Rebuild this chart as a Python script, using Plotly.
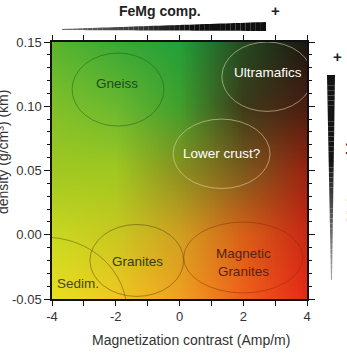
import numpy as np
import plotly.graph_objects as go

# ---------------- data ----------------
x_grid = [-4, -2, 0, 2, 4]
y_grid = [0.15, 0.10, 0.05, 0.00, -0.05]
grid_colors = [
    ["#5ab52f", "#3aa835", "#22a038", "#244a22", "#1a1611"],
    ["#80c028", "#6ab830", "#40a02c", "#3c3a1a", "#4a1c10"],
    ["#a0c820", "#a0c820", "#8a9020", "#7a5a1c", "#9a2210"],
    ["#c8d820", "#c8c820", "#d0a020", "#d86018", "#c82814"],
    ["#e8e020", "#f0c820", "#f0a020", "#f06018", "#e82818"],
]

rock_names = ["Gneiss", "Ultramafics", "Lower crust?", "Granites", "Magnetic<br>Granites", "Sedim."]
label_x = [-1.96, 2.78, 1.33, -1.33, 2.02, -3.18]
label_y = [0.118, 0.126, 0.0636, -0.0212, -0.0216, -0.0383]
label_colors = ["#1e4a1e", "#ffffff", "#ffffff", "#3a3a10", "#5a2010", "#4a4a10"]

ell_cx = [-1.93, 2.75, 1.32, -1.34, 2.0, -4.2]
ell_cy = [0.113, 0.123, 0.063, -0.020, -0.0177, -0.060]
ell_rx = [1.44, 1.42, 1.52, 1.47, 1.87, 2.55]
ell_ry = [0.0284, 0.027, 0.027, 0.028, 0.0276, 0.058]
ell_colors = ["rgba(30,90,30,0.5)", "rgba(235,215,175,0.55)", "rgba(235,215,175,0.55)",
              "rgba(80,70,20,0.5)", "rgba(130,40,10,0.45)", "rgba(90,80,20,0.5)"]

x_tickvals = [-4, -2, 0, 2, 4]
x_ticktext = ["-4", "-2", "0", "2", "4"]
y_tickvals = [-0.05, 0.0, 0.05, 0.10, 0.15]
y_ticktext = ["-0.05", "0.00", "0.05", "0.10", "0.15"]

# ------------- gradient background -------------
def hex2rgb(h):
    h = h.lstrip("#")
    return [int(h[i:i + 2], 16) for i in (0, 2, 4)]

G = np.array([[hex2rgb(c) for c in row] for row in grid_colors], dtype=float)
G = G[::-1]  # y ascending
yg = np.array(y_grid[::-1])
xg = np.array(x_grid, dtype=float)

N = 200
dx = 8.0 / N
dy = 0.2 / N
xs = -4 + dx / 2 + dx * np.arange(N)
ys = -0.05 + dy / 2 + dy * np.arange(N)

tmp = np.zeros((len(yg), N, 3))
for i in range(len(yg)):
    for c in range(3):
        tmp[i, :, c] = np.interp(xs, xg, G[i, :, c])
img = np.zeros((N, N, 3))
for j in range(N):
    for c in range(3):
        img[:, j, c] = np.interp(ys, yg, tmp[:, j, c])
img = np.clip(np.round(img), 0, 255).astype(int)

fig = go.Figure()
fig.add_trace(go.Image(z=img.tolist(), x0=xs[0], dx=dx, y0=ys[0], dy=dy,
                       hoverinfo="skip", zsmooth="fast"))

for cx, cy, rx, ry, col in zip(ell_cx, ell_cy, ell_rx, ell_ry, ell_colors):
    fig.add_shape(type="circle", xref="x", yref="y",
                  x0=cx - rx, x1=cx + rx, y0=cy - ry, y1=cy + ry,
                  line=dict(color=col, width=1))

font_fam = "Liberation Sans, Arial"
for name, lx, ly, col in zip(rock_names, label_x, label_y, label_colors):
    fig.add_annotation(x=lx, y=ly, xref="x", yref="y", text=name, showarrow=False,
                       xanchor="center", yanchor="middle",
                       font=dict(size=13.5, color=col, family=font_fam))

# ------------- layout geometry -------------
W, H = 347, 354
L, R, T, B = 52, 307, 42, 299


def px(xr):
    return (xr - L) / (R - L)


def py(yr):
    return (B - yr) / (B - T)


def quad(p):
    return "M {:.4f},{:.4f} L {:.4f},{:.4f} L {:.4f},{:.4f} L {:.4f},{:.4f} Z".format(
        px(p[0][0]), py(p[0][1]), px(p[1][0]), py(p[1][1]),
        px(p[2][0]), py(p[2][1]), px(p[3][0]), py(p[3][1]))


n = 40
# horizontal wedge (FeMg comp.)
xl, xr = 62, 266
for k in range(n):
    a0, a1 = k / n, (k + 1) / n
    xa = xl + (xr - xl) * a0
    xb = xl + (xr - xl) * a1
    ta = 29.0 + (22 - 29.0) * a0
    tb = 29.0 + (22 - 29.0) * a1
    ba = 30.0 + (31 - 30.0) * a0
    bb = 30.0 + (31 - 30.0) * a1
    g = int(110 - 95 * min(1, a0 * 1.6))
    fig.add_shape(type="path", xref="paper", yref="paper",
                  path=quad([(xa, ta), (xb, tb), (xb, bb), (xa, ba)]),
                  fillcolor="rgb({0},{0},{0})".format(g), line=dict(width=0))

# vertical wedge (Metamorphism)
yt, yb = 75, 280
for k in range(n):
    a0, a1 = k / n, (k + 1) / n
    ya = yt + (yb - yt) * a0
    yb_ = yt + (yb - yt) * a1
    la = 327 + (331 - 327) * a0
    lb = 327 + (331 - 327) * a1
    ra = 335 + (332 - 335) * a0
    rb = 335 + (332 - 335) * a1
    g = int(20 + 150 * max(0, (a0 - 0.4) / 0.6))
    fig.add_shape(type="path", xref="paper", yref="paper",
                  path=quad([(la, ya), (ra, ya), (rb, yb_), (lb, yb_)]),
                  fillcolor="rgb({0},{0},{0})".format(g), line=dict(width=0))


def note(xr, yr, text, size, color, angle=0):
    fig.add_annotation(x=px(xr), y=py(yr), xref="paper", yref="paper", text=text,
                       textangle=angle, showarrow=False, xanchor="center", yanchor="middle",
                       font=dict(size=size, color=color, family=font_fam))


note(160, 11, "<b>FeMg comp.</b>", 14, "#222")
note(275, 10, "<b>+</b>", 15, "#222")
note(337, 56, "<b>+</b>", 15, "#222")
note(352, 172, "<b>Metamorphism</b>", 14, "#222", -90)
note(3, 152, "density (g/cm³) (km)", 14, "#333", -90)
note(191, 340, "Magnetization contrast (Amp/m)", 14, "#333")

axis_common = dict(showline=True, linecolor="#111", linewidth=1.5, mirror="allticks",
                   ticks="outside", tickcolor="#111", tickwidth=1.2, showgrid=False,
                   zeroline=False, tickfont=dict(size=13, color="#333", family=font_fam))

fig.update_xaxes(range=[-4, 4], autorange=False, tickmode="array", tickvals=x_tickvals,
                 ticktext=x_ticktext, ticklen=5,
                 minor=dict(ticks="outside", dtick=1, tick0=0, ticklen=5, tickcolor="#111",
                            tickwidth=1.2, showgrid=False),
                 **axis_common)
fig.update_yaxes(range=[-0.05, 0.15], autorange=False, tickmode="array", tickvals=y_tickvals,
                 ticktext=y_ticktext, ticklen=6, scaleanchor=False,
                 minor=dict(ticks="outside", dtick=0.01, tick0=0, ticklen=3, tickcolor="#111",
                            tickwidth=1, showgrid=False),
                 **axis_common)

fig.update_layout(width=W, height=H, margin=dict(l=L, r=W - R, t=T, b=H - B),
                  paper_bgcolor="white", plot_bgcolor="white", showlegend=False)

fig.write_html("out.html", config={"displayModeBar": False},
               post_script="document.body.style.margin='0px';document.body.style.overflow='hidden';")
